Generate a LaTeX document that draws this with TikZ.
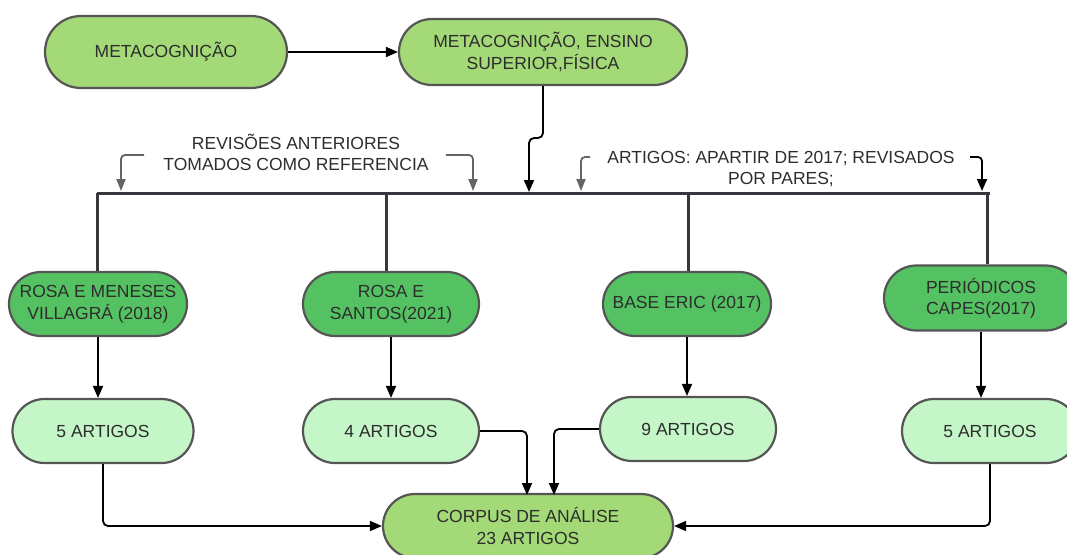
\documentclass[tikz,border=0pt]{standalone}
\usepackage{fontspec}
\setmainfont{Liberation Sans}
\usetikzlibrary{shapes.misc,arrows.meta}
\definecolor{topg}{RGB}{163,217,119}
\definecolor{midg}{RGB}{84,194,98}
\definecolor{lowg}{RGB}{196,246,200}
\definecolor{bord}{RGB}{85,85,85}
\definecolor{txt}{RGB}{45,45,45}
\definecolor{annc}{RGB}{100,100,100}
\definecolor{busc}{RGB}{55,55,62}
\newcommand\myfs{\fontsize{17.5}{21.5}\selectfont}
\tikzset{
  pill/.style={rounded rectangle, draw=bord, line width=2.2pt, text=txt, align=center, font=\myfs, inner sep=0pt},
  conn/.style={draw=black, line width=1.8pt, -{Triangle[length=12pt,width=10pt]}, rounded corners=5pt},
  ann/.style={draw=annc, line width=1.8pt, -{Triangle[length=12pt,width=9pt]}, rounded corners=4pt},
  bus/.style={draw=busc, line width=3pt},
  lbl/.style={text=txt, align=center, font=\myfs, inner sep=0pt}
}
\begin{document}
\begin{tikzpicture}[x=1pt,y=-1pt]
\useasboundingbox (0,0) rectangle (1067,554);

% top nodes
\node[pill, fill=topg, minimum width=242pt, minimum height=72pt] (n1) at (166,52) {METACOGNIÇÃO};
\node[pill, fill=topg, minimum width=288pt, minimum height=66pt] (n2) at (543,52) {METACOGNIÇÃO, ENSINO\\SUPERIOR,FÍSICA};

% source nodes
\node[pill, fill=midg, minimum width=178pt, minimum height=64pt] (a1) at (98,304) {ROSA E MENESES\\VILLAGRÁ (2018)};
\node[pill, fill=midg, minimum width=176pt, minimum height=64pt] (a2) at (391,304) {ROSA E\\SANTOS(2021)};
\node[pill, fill=midg, minimum width=168pt, minimum height=64pt] (a3) at (687,304) {BASE ERIC (2017)};
\node[pill, fill=midg, minimum width=194pt, minimum height=65pt] (a4) at (981,298) {PERIÓDICOS\\CAPES(2017)};

% count nodes
\node[pill, fill=lowg, minimum width=181pt, minimum height=64pt] (b1) at (103,431) {5 ARTIGOS};
\node[pill, fill=lowg, minimum width=176pt, minimum height=64pt] (b2) at (391,431) {4 ARTIGOS};
\node[pill, fill=lowg, minimum width=176pt, minimum height=64pt] (b3) at (688,429) {9 ARTIGOS};
\node[pill, fill=lowg, minimum width=176pt, minimum height=64pt] (b4) at (990,431) {5 ARTIGOS};

% corpus
\node[pill, fill=topg, minimum width=290pt, minimum height=64pt] (corpus) at (528,526) {CORPUS DE ANÁLISE\\23 ARTIGOS};

% annotation labels
\node[lbl] (rev) at (296,152.5) {REVISÕES ANTERIORES\\TOMADOS COMO REFERENCIA};
\node[lbl] (art) at (781,169) {ARTIGOS: APARTIR DE 2017; REVISADOS\\POR PARES;};

% bus
\coordinate (busL) at (97,193);
\coordinate (busR) at (990,193);
\coordinate (d2) at (386,193);
\coordinate (d3) at (688,193);
\coordinate (d4) at (987,193);
\draw[bus] (busL) -- (busR);
\draw[bus] (busL) -- (busL |- a1.north);
\draw[bus] (d2) -- (d2 |- a2.north);
\draw[bus] (d3) -- (d3 |- a3.north);
\draw[bus] (d4) -- (d4 |- a4.north);

% top connectors
\draw[conn] (n1.east) -- (n2.west);
\coordinate (j) at (529,192);
\draw[conn] (n2.south) -- (543,138) -- (529,138) -- (j);

% annotation brackets
\coordinate (g1s) at (144,155); \coordinate (g1e) at (121,191);
\coordinate (g2s) at (446,155); \coordinate (g2e) at (473,191);
\coordinate (g3s) at (590,157); \coordinate (g3e) at (581,191);
\coordinate (g4s) at (970,157); \coordinate (g4e) at (982,191);
\draw[ann] (g1s) -| (g1e);
\draw[ann] (g2s) -| (g2e);
\draw[ann] (g3s) -| (g3e);
\draw[conn, rounded corners=4pt] (g4s) -| (g4e);

% down arrows
\draw[conn] (a1.south) -- (a1.south |- b1.north);
\draw[conn] (a2.south) -- (a2.south |- b2.north);
\draw[conn] (a3.south) -- (a3.south |- b3.north);
\draw[conn] (a4.south) -- (a4.south |- b4.north);

% into corpus
\coordinate (c2) at (527,495);
\coordinate (c3) at (554,495);
\draw[conn] (b1.south) |- (corpus.west);
\draw[conn] (b2.east) -| (c2);
\draw[conn] (b3.west) -| (c3);
\draw[conn] (b4.south) |- (corpus.east);
\end{tikzpicture}
\end{document}
